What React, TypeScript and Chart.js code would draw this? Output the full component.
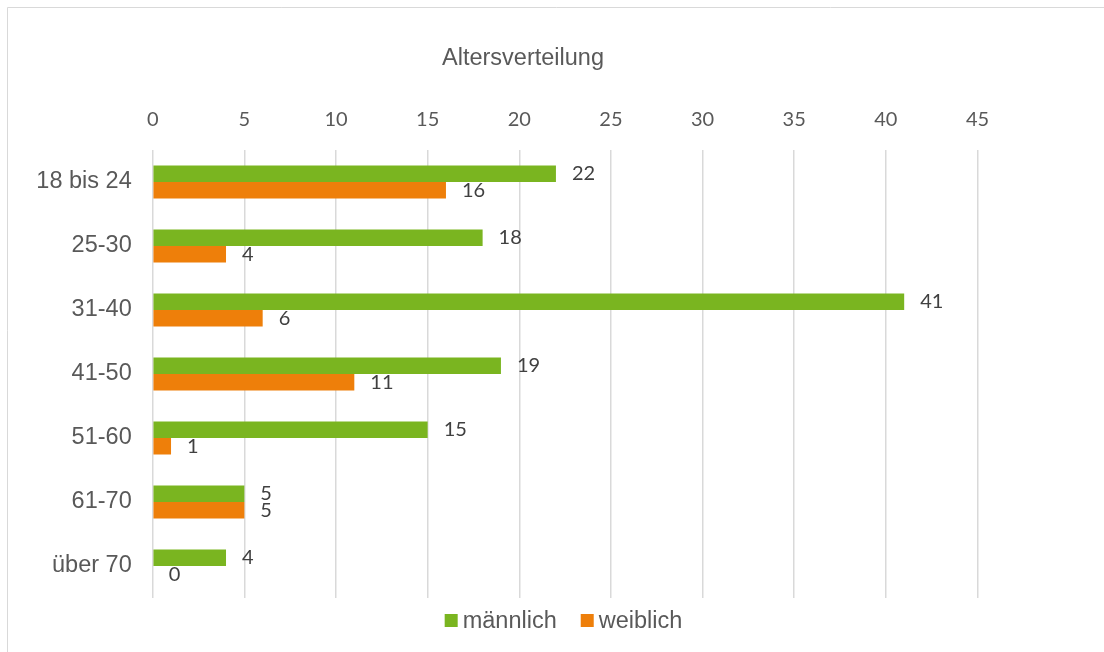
import React, { useEffect, useRef } from "react";
import { Chart, registerables } from "chart.js";

Chart.register(...registerables);

const categories = ["18 bis 24", "25-30", "31-40", "41-50", "51-60", "61-70", "über 70"];
const maleValues = [22, 18, 41, 19, 15, 5, 4];
const femaleValues = [16, 4, 6, 11, 1, 5, 0];
const seriesNames = ["männlich", "weiblich"];
const chartTitle = "Altersverteilung";

const GREEN = "#7AB520";
const ORANGE = "#EE7F0A";
const GRID = "#d9d9d9";
const TEXT = "#595959";
const LABEL_FONT = "'Liberation Sans', Arial, sans-serif";
const NUM_FONT = "Lato, 'Open Sans', sans-serif";

const framePlugin = {
  id: "frame",
  beforeDraw(chart: any) {
    const ctx = chart.ctx;
    ctx.save();
    ctx.fillStyle = "#ffffff";
    ctx.fillRect(0, 0, chart.width, chart.height);
    ctx.strokeStyle = GRID;
    ctx.lineWidth = 1;
    ctx.beginPath();
    ctx.moveTo(7.5, chart.height + 5);
    ctx.lineTo(7.5, 7.5);
    ctx.lineTo(chart.width + 5, 7.5);
    ctx.stroke();
    ctx.restore();
  },
};

const titlePlugin = {
  id: "customTitle",
  afterDraw(chart: any) {
    const ctx = chart.ctx;
    ctx.save();
    ctx.font = `23.5px ${LABEL_FONT}`;
    ctx.fillStyle = TEXT;
    ctx.textAlign = "center";
    ctx.textBaseline = "alphabetic";
    ctx.fillText(chartTitle, 523, 65);
    ctx.restore();
  },
};

const valueLabelPlugin = {
  id: "valueLabels",
  afterDatasetsDraw(chart: any) {
    const ctx = chart.ctx;
    ctx.save();
    ctx.font = `20px ${NUM_FONT}`;
    ctx.fillStyle = "#404040";
    ctx.textAlign = "left";
    ctx.textBaseline = "middle";
    chart.data.datasets.forEach((ds: any, di: number) => {
      const meta = chart.getDatasetMeta(di);
      meta.data.forEach((el: any, i: number) => {
        const v = ds.data[i];
        ctx.fillText(String(v), el.x + 16, el.y);
      });
    });
    ctx.restore();
  },
};

const legendPlugin = {
  id: "customLegend",
  afterDraw(chart: any) {
    const ctx = chart.ctx;
    ctx.save();
    ctx.font = `23.5px ${LABEL_FONT}`;
    const box = 13;
    const gapText = 5;
    const gapItem = 24;
    const colors = [GREEN, ORANGE];
    const widths = seriesNames.map((n) => box + gapText + ctx.measureText(n).width);
    const total = widths.reduce((a, b) => a + b, 0) + gapItem * (seriesNames.length - 1);
    let x = 563.5 - total / 2;
    const cy = 620.5;
    seriesNames.forEach((n, i) => {
      ctx.fillStyle = colors[i];
      ctx.fillRect(x, cy - box / 2, box, box);
      ctx.fillStyle = TEXT;
      ctx.textAlign = "left";
      ctx.textBaseline = "middle";
      ctx.fillText(n, x + box + gapText, cy + 1);
      x += widths[i] + gapItem;
    });
    ctx.restore();
  },
};

export default function App() {
  const canvasRef = useRef<HTMLCanvasElement>(null);

  useEffect(() => {
    if (!canvasRef.current) return;
    const chart = new Chart(canvasRef.current, {
      type: "bar",
      data: {
        labels: categories,
        datasets: [
          {
            label: seriesNames[0],
            data: maleValues,
            backgroundColor: GREEN,
            categoryPercentage: 0.516,
            barPercentage: 1,
          },
          {
            label: seriesNames[1],
            data: femaleValues,
            backgroundColor: ORANGE,
            categoryPercentage: 0.516,
            barPercentage: 1,
          },
        ],
      },
      options: {
        indexAxis: "y",
        animation: false,
        responsive: false,
        maintainAspectRatio: false,
        layout: {
          padding: { top: 90, bottom: 54, left: 0, right: 126.5 },
        },
        plugins: {
          legend: { display: false },
          title: { display: false },
          tooltip: { enabled: false },
        },
        scales: {
          x: {
            position: "top",
            min: 0,
            max: 45,
            ticks: {
              stepSize: 5,
              color: TEXT,
              font: { family: NUM_FONT, size: 20, lineHeight: 1.2 },
              padding: 18,
            },
            grid: {
              color: GRID,
              lineWidth: 1.5,
              drawTicks: false,
            },
            border: { display: false },
          },
          y: {
            position: "left",
            afterFit(scale: any) {
              scale.width = 152.7;
            },
            ticks: {
              color: TEXT,
              font: { family: LABEL_FONT, size: 23.5 },
              padding: 21,
            },
            grid: { display: false, drawTicks: false },
            border: { display: false },
          },
        },
      },
      plugins: [framePlugin, titlePlugin, valueLabelPlugin, legendPlugin],
    });
    return () => chart.destroy();
  }, []);

  return (
    <div style={{ position: "fixed", left: 0, top: 0, width: 1104, height: 652, background: "#fff" }}>
      <canvas ref={canvasRef} width={1104} height={652} style={{ width: 1104, height: 652 }} />
    </div>
  );
}
